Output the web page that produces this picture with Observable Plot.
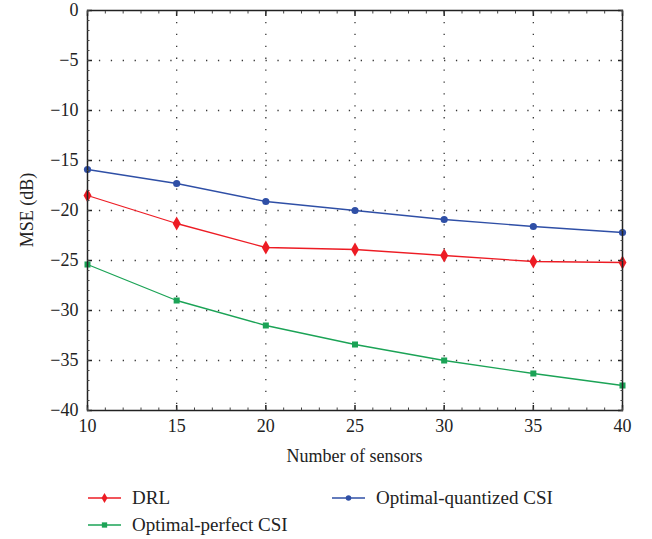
<!DOCTYPE html>
<html>
<head>
<meta charset="utf-8">
<script src="https://cdn.jsdelivr.net/npm/d3@7"></script>
<script src="https://cdn.jsdelivr.net/npm/@observablehq/plot@0.6"></script>
<style>
  body { margin: 0; background: #fff; font-family: "Liberation Serif", "DejaVu Serif", serif; }
  #chart { position: relative; width: 652px; }
  #chart svg, #chart svg text { font-family: "Liberation Serif", "DejaVu Serif", serif !important; }
  .legend { position: relative; width: 652px; height: 71px; font-size: 19px; color: #222; }
  .item { position: absolute; display: flex; align-items: center; white-space: nowrap; }
  .item svg { margin-right: 11px; }
</style>
</head>
<body>
<div id="chart"></div>
<div class="legend" id="legend"></div>
<script>
const sensors = [10, 15, 20, 25, 30, 35, 40];
const drl = [-18.5, -21.3, -23.7, -23.9, -24.5, -25.1, -25.2];
const quantized = [-15.9, -17.3, -19.1, -20.0, -20.9, -21.6, -22.2];
const perfect = [-25.4, -29.0, -31.5, -33.4, -35.0, -36.3, -37.5];
const seriesNames = ["DRL", "Optimal-quantized CSI", "Optimal-perfect CSI"];
const seriesColors = ["#ed1c24", "#2f4fa6", "#1ba356"];
const seriesSymbols = ["diamond", "circle", "square"];
const xTicks = [10, 15, 20, 25, 30, 35, 40];
const yTicks = [0, -5, -10, -15, -20, -25, -30, -35, -40];

const seriesValues = [drl, quantized, perfect];
const rows = [];
seriesValues.forEach((vals, i) => vals.forEach((v, j) => rows.push({series: seriesNames[i], x: sensors[j], y: v})));

const fmt = d => d < 0 ? "\u2212" + (-d) : String(d);
const blank = () => "";
const yMinor = d3.range(-40, 1, 1);
const xMinor = d3.range(10, 41, 1);

const marks = [];
// dotted grid
marks.push(Plot.gridX(xTicks.slice(1, -1), {stroke: "#222", strokeOpacity: 0.9, strokeWidth: 1.3, strokeDasharray: "1.3,10.6"}));
marks.push(Plot.gridY(yTicks.slice(1, -1), {stroke: "#222", strokeOpacity: 0.9, strokeWidth: 1.3, strokeDasharray: "1.3,10.6"}));
// lines
seriesNames.forEach((name, i) => {
  const data = rows.filter(r => r.series === name);
  marks.push(Plot.line(data, {x: "x", y: "y", stroke: seriesColors[i], strokeWidth: 1.3}));
});
seriesNames.forEach((name, i) => {
  const data = rows.filter(r => r.series === name);
  marks.push(Plot.dot(data, {x: "x", y: "y", fill: seriesColors[i], symbol: seriesSymbols[i], r: i === 0 ? 4.2 : (i === 1 ? 3.6 : 3.4), stroke: "none"}));
});
// frame
marks.push(Plot.frame({stroke: "#222", strokeWidth: 1.5}));
// axes with inward ticks
marks.push(Plot.axisY(yTicks, {anchor: "left", tickSize: 0, tickPadding: 9, tickFormat: fmt, fontSize: 18, label: null}));
marks.push(Plot.axisY(yTicks, {anchor: "left", tickSize: -5, tickFormat: blank, label: null, stroke: "#222", strokeWidth: 1.5}));
marks.push(Plot.axisY(yMinor, {anchor: "left", tickSize: -2.5, tickFormat: blank, label: null, stroke: "#444"}));
marks.push(Plot.axisY(yTicks, {anchor: "right", tickSize: -5, tickFormat: blank, label: null, stroke: "#222", strokeWidth: 1.5}));
marks.push(Plot.axisY(yMinor, {anchor: "right", tickSize: -2.5, tickFormat: blank, label: null, stroke: "#444"}));
marks.push(Plot.axisX(xTicks, {anchor: "bottom", tickSize: 0, tickPadding: 9, tickFormat: d => String(d), fontSize: 18, label: null}));
marks.push(Plot.axisX(xTicks, {anchor: "bottom", tickSize: -5, tickFormat: blank, label: null, stroke: "#222", strokeWidth: 1.5}));
marks.push(Plot.axisX(xMinor, {anchor: "bottom", tickSize: -2.5, tickFormat: blank, label: null, stroke: "#444"}));
marks.push(Plot.axisX(xTicks, {anchor: "top", tickSize: -5, tickFormat: blank, label: null, stroke: "#222", strokeWidth: 1.5}));
marks.push(Plot.axisX(xMinor, {anchor: "top", tickSize: -2.5, tickFormat: blank, label: null, stroke: "#444"}));

const plot = Plot.plot({
  width: 652,
  height: 468,
  marginLeft: 87,
  marginRight: 30,
  marginTop: 10,
  marginBottom: 58,
  style: {fontFamily: "'Liberation Serif', 'DejaVu Serif', serif", fontSize: "18px", color: "#222", background: "#fff"},
  x: {domain: [10, 40], label: null},
  y: {domain: [-40, 0], label: null},
  marks
});
const chart = document.getElementById("chart");
chart.appendChild(plot);

// axis titles as text over the svg
const svg = d3.select(plot);
svg.append("text").attr("x", (87 + 622) / 2).attr("y", 462).attr("text-anchor", "middle")
  .style("font-size", "18px").attr("fill", "#222").text("Number of sensors");
svg.append("text").attr("transform", `translate(33, 210) rotate(-90)`).attr("text-anchor", "middle")
  .style("font-size", "18px").attr("fill", "#222").text("MSE (dB)");

// legend
const legend = document.getElementById("legend");
const positions = [[88, 30], [332, 30], [88, 57]];
[0, 1, 2].forEach((i, k) => {
  const el = document.createElement("div");
  el.className = "item";
  el.style.left = positions[k][0] + "px";
  el.style.top = (positions[k][1] - 13) + "px";
  el.style.height = "26px";
  const sym = d3.symbol().type(i === 0 ? d3.symbolDiamond : i === 1 ? d3.symbolCircle : d3.symbolSquare).size(i === 0 ? 30 : i === 1 ? 24 : 28)();
  el.innerHTML = `<svg width="33" height="12"><line x1="0" y1="6" x2="33" y2="6" stroke="${seriesColors[i]}" stroke-width="1.5"/><path d="${sym}" transform="translate(16.5,6)" fill="${seriesColors[i]}"/></svg><span>${seriesNames[i]}</span>`;
  legend.appendChild(el);
});
</script>
</body>
</html>
